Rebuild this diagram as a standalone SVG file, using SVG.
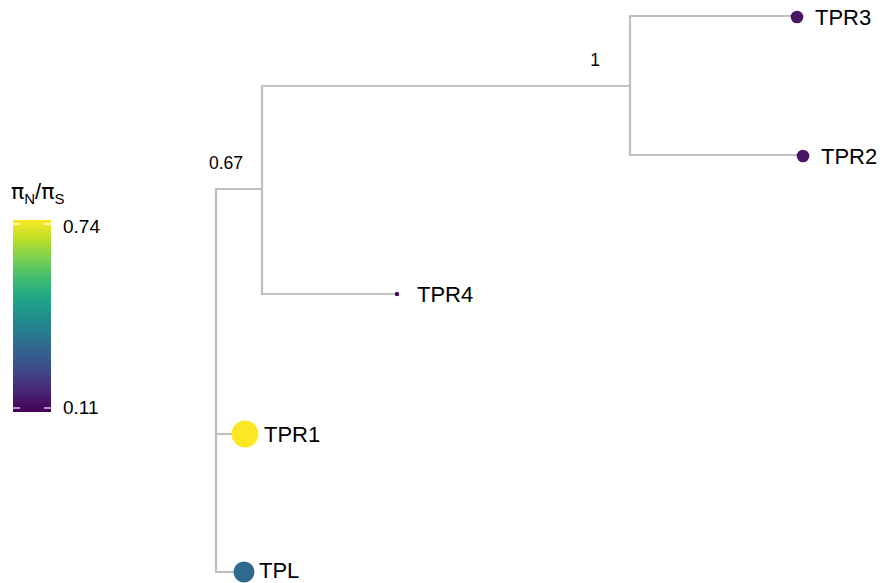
<svg xmlns="http://www.w3.org/2000/svg" width="887" height="583" viewBox="0 0 887 583">
<style>
.br{stroke:#c0c0c0;stroke-width:2.2;fill:none;stroke-linecap:butt}
.lab{font-family:"Liberation Sans",Arial,sans-serif;font-size:22px;fill:#000}
.sup{font-family:"Liberation Sans",Arial,sans-serif;font-size:17.5px;fill:#000;text-anchor:middle}
.tick{font-family:"Liberation Sans",Arial,sans-serif;font-size:19px;fill:#000}
</style>
<defs>
<linearGradient id="vir" x1="0" y1="1" x2="0" y2="0">
<stop offset="0" stop-color="#440154"/>
<stop offset="0.1" stop-color="#482475"/>
<stop offset="0.2" stop-color="#414487"/>
<stop offset="0.3" stop-color="#355F8D"/>
<stop offset="0.4" stop-color="#2A788E"/>
<stop offset="0.5" stop-color="#21908D"/>
<stop offset="0.6" stop-color="#22A884"/>
<stop offset="0.7" stop-color="#42BE71"/>
<stop offset="0.8" stop-color="#7AD151"/>
<stop offset="0.9" stop-color="#BBDF27"/>
<stop offset="1" stop-color="#FDE725"/>
</linearGradient>
</defs>
<g id="connectors">
<path class="br" d="M216,189 V572"/>
<path class="br" d="M215,189 H262"/>
<path class="br" d="M262,85 V295"/>
<path class="br" d="M261,86 H630"/>
<path class="br" d="M261,294 H397"/>
<path class="br" d="M630,15 V156"/>
<path class="br" d="M629,16 H797"/>
<path class="br" d="M629,155 H803"/>
<path class="br" d="M215,434 H245"/>
<path class="br" d="M215,572 H244"/>
</g>
<g id="support">
<text class="sup" x="595" y="66">1</text>
<text class="sup" x="226" y="169">0.67</text>
</g>
<g id="TPR3"><circle cx="797" cy="17" r="6.3" fill="#481467"/><text class="lab" x="815" y="25">TPR3</text></g>
<g id="TPR2"><circle cx="803" cy="156" r="6.3" fill="#481467"/><text class="lab" x="821" y="164">TPR2</text></g>
<g id="TPR4"><circle cx="397" cy="294" r="2.2" fill="#440154"/><text class="lab" x="417" y="302">TPR4</text></g>
<g id="TPR1"><circle cx="245" cy="434" r="13.5" fill="#FDE725"/><text class="lab" x="264" y="442">TPR1</text></g>
<g id="TPL"><circle cx="244" cy="572" r="10.5" fill="#2F6B8E"/><text class="lab" x="259" y="578">TPL</text></g>
<g id="legend">
<text font-family="'DejaVu Sans','Liberation Sans',sans-serif" font-size="22" x="11" y="199">π<tspan font-family="'Liberation Sans',Arial,sans-serif" font-size="15" dy="5">N</tspan><tspan font-family="'Liberation Sans',Arial,sans-serif" font-size="22" dy="-5">/</tspan>π<tspan font-family="'Liberation Sans',Arial,sans-serif" font-size="15" dy="5">S</tspan></text>
<rect x="13" y="220" width="38" height="192" fill="url(#vir)"/>
<g stroke="#fff" stroke-width="1.2">
<line x1="13" y1="224" x2="20" y2="224"/><line x1="44" y1="224" x2="51" y2="224"/>
<line x1="13" y1="408" x2="20" y2="408"/><line x1="44" y1="408" x2="51" y2="408"/>
</g>
<text class="tick" x="63" y="233">0.74</text>
<text class="tick" x="63" y="414">0.11</text>
</g>
</svg>
